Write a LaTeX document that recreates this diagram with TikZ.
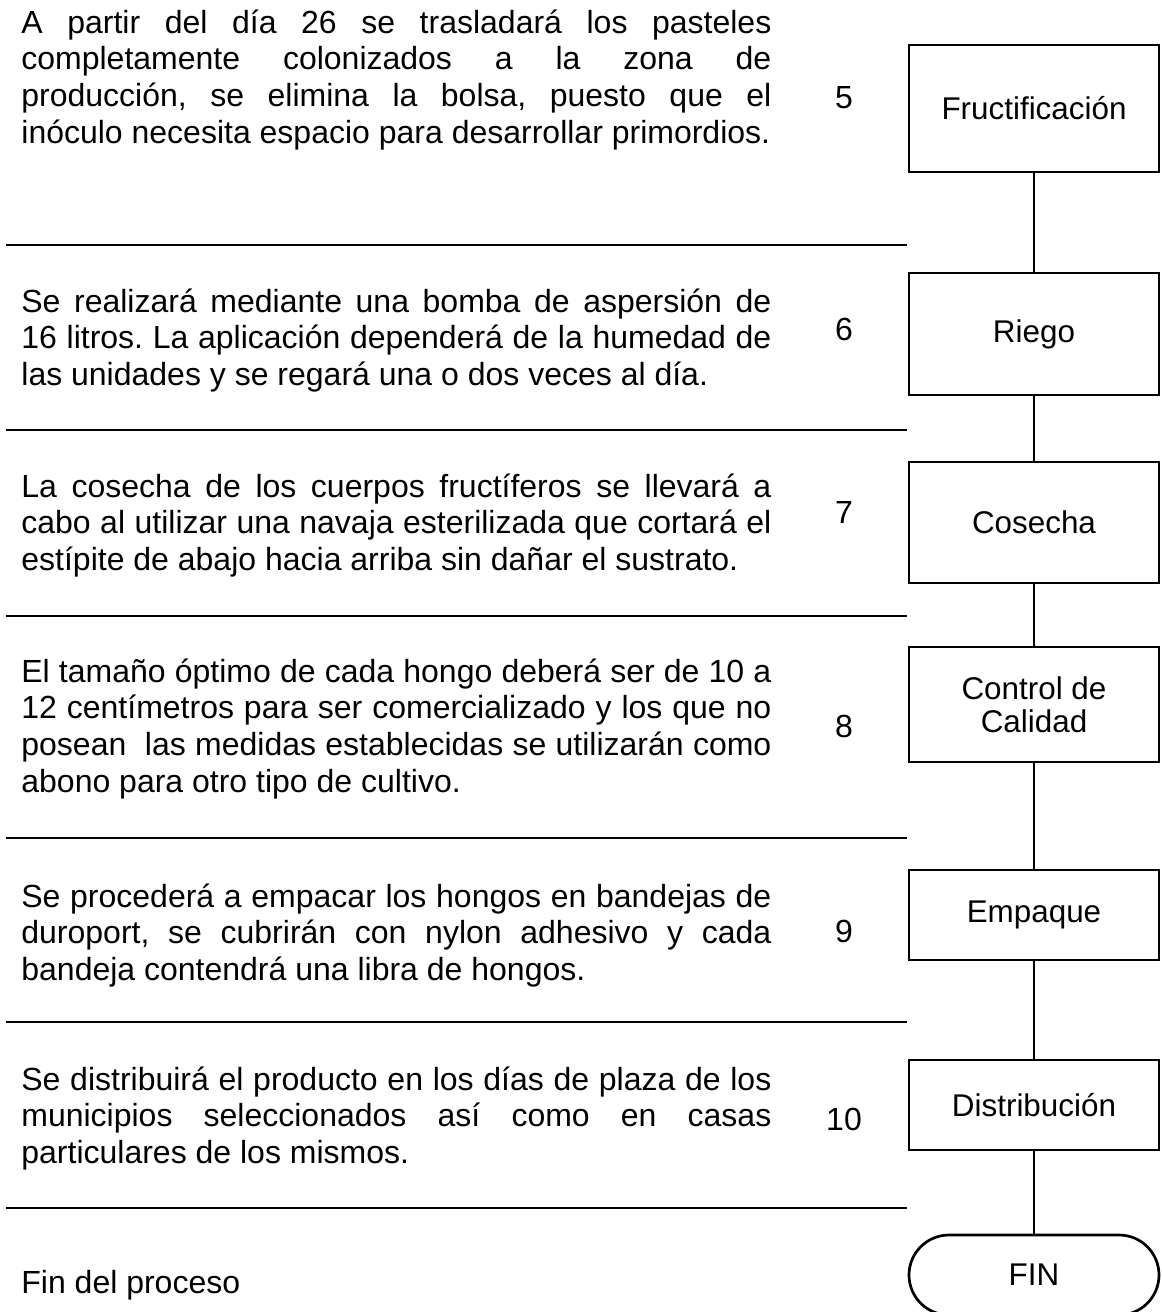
\documentclass[tikz,border=0pt]{standalone}
\usepackage{fontspec}
\setmainfont{Liberation Sans}
\usetikzlibrary{positioning}
\tolerance=10000
\hyphenpenalty=10000
\frenchspacing

\begin{document}
\begin{tikzpicture}[x=0.5pt,y=-0.5pt,
    paso/.style={draw,line width=1.35pt,minimum width=125pt,inner sep=0pt,align=center,
        font=\fontsize{15.7}{16.5}\selectfont},
    fin/.style={paso,rounded corners=20pt,minimum height=40pt},
    texto/.style={anchor=base west,inner sep=0pt,text width=375pt,align=justify,
        font=\fontsize{16}{18.35}\selectfont},
    num/.style={anchor=base,inner sep=0pt,font=\fontsize{16}{18.35}\selectfont},
    regla/.style={line width=1.4pt},
    enlace/.style={line width=0.9pt}]

    \useasboundingbox (0,0) rectangle (1162,1312);

    % pasos del diagrama
    \node[paso,minimum height=63.5pt] (fruct) at (1034,108.5) {Fructificación};
    \node[paso,minimum height=61pt] (riego) at (1034,334) {Riego};
    \node[paso,minimum height=60.5pt] (cosecha) at (1034,522.5) {Cosecha};
    \node[paso,minimum height=57.5pt] (control) at (1034,704.5) {Control de\\Calidad};
    \node[paso,minimum height=45pt] (empaque) at (1034,915) {Empaque};
    \node[paso,minimum height=45pt] (distrib) at (1034,1105) {Distribución};
    \node[fin] (final) at (1034,1275) {FIN};

    \draw[enlace] (fruct) -- (riego);
    \draw[enlace] (riego) -- (cosecha);
    \draw[enlace] (cosecha) -- (control);
    \draw[enlace] (control) -- (empaque);
    \draw[enlace] (empaque) -- (distrib);
    \draw[enlace] (distrib) -- (final);

    % separadores
    \foreach \y in {245,430,616,838,1022,1208}
        \draw[regla] (6,\y) -- (907,\y);

    % descripciones
    \node[texto] (d5) at (21,33) {A partir del día 26 se trasladará los pasteles\linebreak
        completamente colonizados a la zona de\linebreak
        producción, se elimina la bolsa, puesto que el\linebreak
        inóculo necesita espacio para desarrollar primordios.};
    \node[texto] (d6) at (21,312) {Se realizará mediante una bomba de aspersión de\linebreak
        16 litros. La aplicación dependerá de la humedad de\linebreak
        las unidades y se regará una o dos veces al día.};
    \node[texto] (d7) at (21,497) {La cosecha de los cuerpos fructíferos se llevará a\linebreak
        cabo al utilizar una navaja esterilizada que cortará el\linebreak
        estípite de abajo hacia arriba sin dañar el sustrato.};
    \node[texto] (d8) at (21,682) {El tamaño óptimo de cada hongo deberá ser de 10 a\linebreak
        12 centímetros para ser comercializado y los que no\linebreak
        posean~ las medidas establecidas se utilizarán como\linebreak
        abono para otro tipo de cultivo.};
    \node[texto] (d9) at (21,907) {Se procederá a empacar los hongos en bandejas de\linebreak
        duroport, se cubrirán con nylon adhesivo y cada\linebreak
        bandeja contendrá una libra de hongos.};
    \node[texto] (d10) at (21,1090) {Se distribuirá el producto en los días de plaza de los\linebreak
        municipios seleccionados así como en casas\linebreak
        particulares de los mismos.};
    \node[texto] (dfin) at (21,1293) {Fin del proceso};

    % numeros
    \node[num] (n5) at (844,108) {5};
    \node[num] (n6) at (844,340) {6};
    \node[num] (n7) at (844,523) {7};
    \node[num] (n8) at (844,737) {8};
    \node[num] (n9) at (844,942) {9};
    \node[num] (n10) at (844,1130) {10};

\end{tikzpicture}
\end{document}
